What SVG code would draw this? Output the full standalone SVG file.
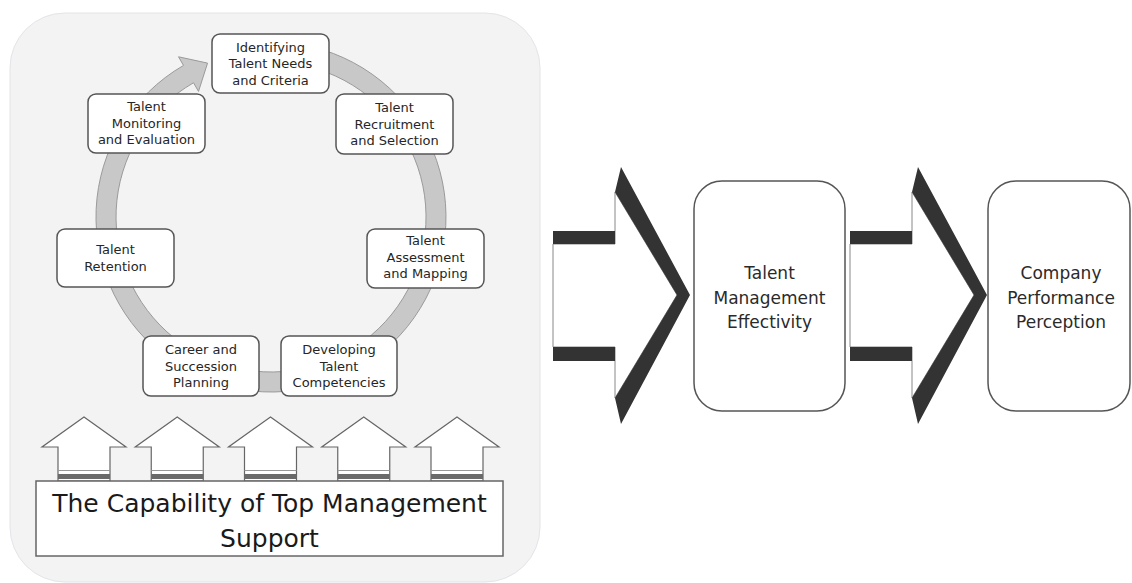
<svg xmlns="http://www.w3.org/2000/svg" width="1132" height="583" viewBox="0 0 1132 583">
<style>
.node{fill:#fff;stroke:#555;stroke-width:1.5}
.t{font-family:"DejaVu Sans",Verdana,sans-serif;font-size:13px;fill:#262626;text-anchor:middle}
.big{font-family:"DejaVu Sans",Verdana,sans-serif;font-size:17px;fill:#2a2a2a;text-anchor:middle}
.base{font-family:"DejaVu Sans",Verdana,sans-serif;font-size:25px;fill:#1a1a1a;text-anchor:middle}
.up{fill:#fff;stroke:#666;stroke-width:1.2}
.dark{fill:#333}
.body{fill:#fff;stroke:#888;stroke-width:1}
</style>
<rect width="1132" height="583" fill="#fff"/>
<rect id="panel" x="10" y="13" width="530" height="569" rx="55" fill="#f3f3f3" stroke="#e4e4ea" stroke-width="1"/>

<g id="connectors">
  <path id="cycle" d="M225.71 47.97 A175 175 0 1 1 183.5 65.45 L178.5 56.79 L207.55 63.11 L198.5 91.43 L193.5 82.77 A155 155 0 1 0 230.88 67.28 Z" fill="#c8c8c8" stroke="#9a9a9a" stroke-width="1"/>
  <g id="support-arrows">
    <g transform="translate(84,0)"><polygon class="up" points="0,417 42,447 26,447 26,481 -26,481 -26,447 -42,447"/><line x1="-26" y1="470.5" x2="26" y2="470.5" stroke="#999" stroke-width="1.2"/><rect x="-26" y="474" width="52" height="5" fill="#6a6a6a"/></g>
    <g transform="translate(177.25,0)"><polygon class="up" points="0,417 42,447 26,447 26,481 -26,481 -26,447 -42,447"/><line x1="-26" y1="470.5" x2="26" y2="470.5" stroke="#999" stroke-width="1.2"/><rect x="-26" y="474" width="52" height="5" fill="#6a6a6a"/></g>
    <g transform="translate(270.5,0)"><polygon class="up" points="0,417 42,447 26,447 26,481 -26,481 -26,447 -42,447"/><line x1="-26" y1="470.5" x2="26" y2="470.5" stroke="#999" stroke-width="1.2"/><rect x="-26" y="474" width="52" height="5" fill="#6a6a6a"/></g>
    <g transform="translate(363.75,0)"><polygon class="up" points="0,417 42,447 26,447 26,481 -26,481 -26,447 -42,447"/><line x1="-26" y1="470.5" x2="26" y2="470.5" stroke="#999" stroke-width="1.2"/><rect x="-26" y="474" width="52" height="5" fill="#6a6a6a"/></g>
    <g transform="translate(457,0)"><polygon class="up" points="0,417 42,447 26,447 26,481 -26,481 -26,447 -42,447"/><line x1="-26" y1="470.5" x2="26" y2="470.5" stroke="#999" stroke-width="1.2"/><rect x="-26" y="474" width="52" height="5" fill="#6a6a6a"/></g>
  </g>
  <g id="block-arrow-1">
    <polygon class="body" points="553,244 615,244 615,192 677,295 615,398 615,347 553,347"/>
    <rect class="dark" x="553" y="231" width="62" height="13"/>
    <rect class="dark" x="553" y="347" width="62" height="14"/>
    <polygon class="dark" points="621,167 690,295 621,424 615,398 677,295 615,192"/>
  </g>
  <g id="block-arrow-2" transform="translate(297,0)">
    <polygon class="body" points="553,244 615,244 615,192 677,295 615,398 615,347 553,347"/>
    <rect class="dark" x="553" y="231" width="62" height="13"/>
    <rect class="dark" x="553" y="347" width="62" height="14"/>
    <polygon class="dark" points="621,167 690,295 621,424 615,398 677,295 615,192"/>
  </g>
</g>

<g id="n-identifying"><rect class="node" x="212" y="34" width="117" height="59" rx="8"/>
  <text class="t" x="270.5" y="51.5">Identifying</text><text class="t" x="270.5" y="68">Talent Needs</text><text class="t" x="270.5" y="84.5">and Criteria</text></g>
<g id="n-recruitment"><rect class="node" x="336" y="94" width="117" height="60" rx="8"/>
  <text class="t" x="394.5" y="112">Talent</text><text class="t" x="394.5" y="128.5">Recruitment</text><text class="t" x="394.5" y="145">and Selection</text></g>
<g id="n-assessment"><rect class="node" x="367" y="229" width="117" height="59" rx="8"/>
  <text class="t" x="425.5" y="245">Talent</text><text class="t" x="425.5" y="261.5">Assessment</text><text class="t" x="425.5" y="278">and Mapping</text></g>
<g id="n-developing"><rect class="node" x="281" y="336" width="116" height="60" rx="8"/>
  <text class="t" x="339" y="354">Developing</text><text class="t" x="339" y="370.5">Talent</text><text class="t" x="339" y="387">Competencies</text></g>
<g id="n-career"><rect class="node" x="143" y="336" width="116" height="60" rx="8"/>
  <text class="t" x="201" y="354">Career and</text><text class="t" x="201" y="370.5">Succession</text><text class="t" x="201" y="387">Planning</text></g>
<g id="n-retention"><rect class="node" x="57" y="229" width="117" height="58" rx="8"/>
  <text class="t" x="115.5" y="253.5">Talent</text><text class="t" x="115.5" y="270.5">Retention</text></g>
<g id="n-monitoring"><rect class="node" x="88" y="94" width="117" height="59" rx="8"/>
  <text class="t" x="146.5" y="111">Talent</text><text class="t" x="146.5" y="127.5">Monitoring</text><text class="t" x="146.5" y="144">and Evaluation</text></g>

<g id="n-support"><rect x="36" y="481" width="467" height="75" fill="#fff" stroke="#666" stroke-width="1.5"/>
  <text class="base" x="269.5" y="512">The Capability of Top Management</text><text class="base" x="269.5" y="547">Support</text></g>

<g id="n-effectivity"><rect class="node" x="694" y="181" width="151" height="230" rx="28" stroke-width="1.2"/>
  <text class="big" x="769.5" y="279">Talent</text><text class="big" x="769.5" y="304">Management</text><text class="big" x="769.5" y="328">Effectivity</text></g>
<g id="n-performance"><rect class="node" x="988" y="181" width="142" height="230" rx="28" stroke-width="1.2"/>
  <text class="big" x="1061" y="279">Company</text><text class="big" x="1061" y="304">Performance</text><text class="big" x="1061" y="328">Perception</text></g>
</svg>
